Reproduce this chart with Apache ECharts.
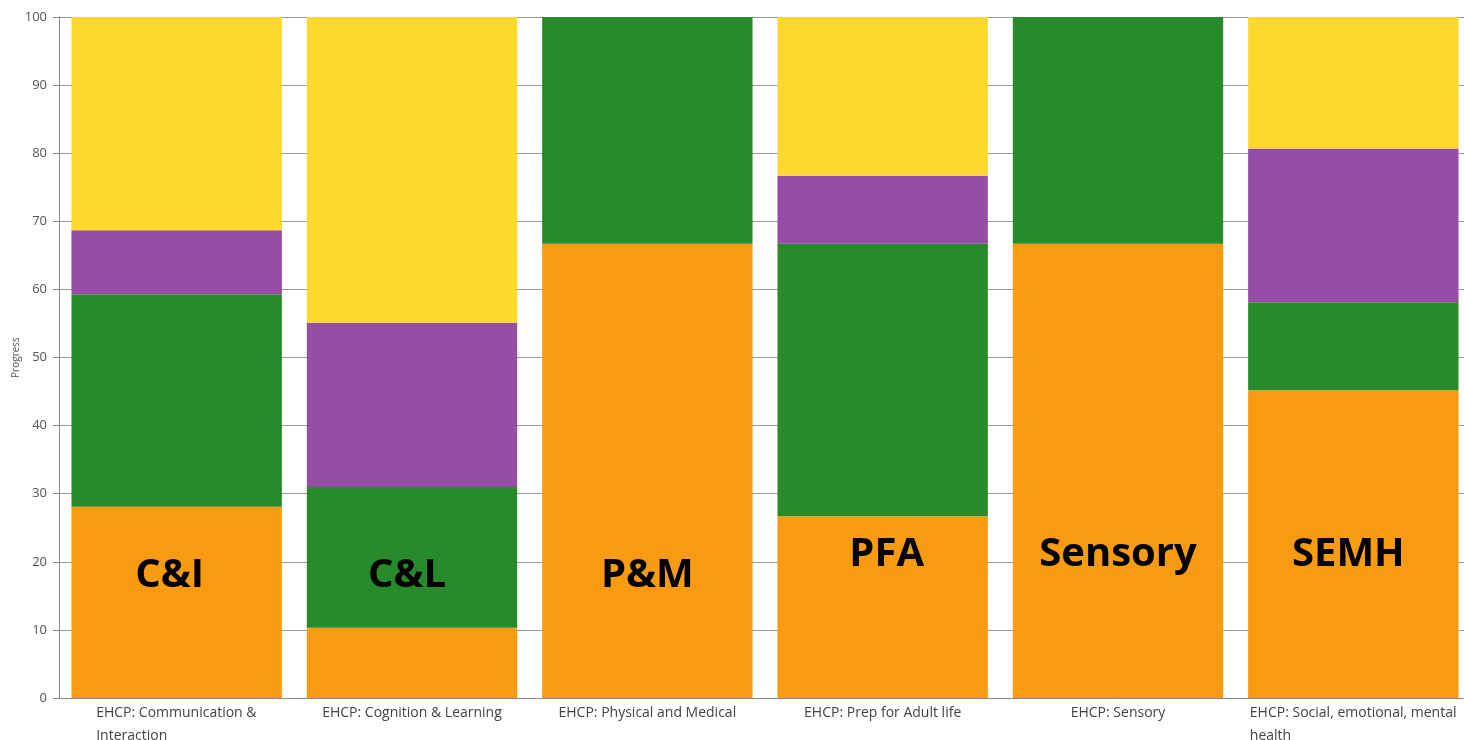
<!DOCTYPE html>
<html lang="en">
<head>
    <meta charset="UTF-8">
    <title>EHCP Progress</title>
    <script src="https://cdn.jsdelivr.net/npm/echarts@6/dist/echarts.min.js"></script>
    <style>
        *{
            margin: 0;
            padding: 0;
        }
        body{
            background-color: #fff;
            overflow: hidden;
        }
    </style>
</head>
<body>
<div id="main" style="width:1464px;height:740px;"></div>

<script>
    // categories
    var categories = [
        'EHCP: Communication & Interaction',
        'EHCP: Cognition & Learning',
        'EHCP: Physical and Medical',
        'EHCP: Prep for Adult life',
        'EHCP: Sensory',
        'EHCP: Social, emotional, mental health'
    ];
    // stacked percentages, bottom to top
    var orangeVals = [28.1, 10.3, 66.7, 26.7, 66.7, 45.2];
    var greenVals  = [31.2, 20.7, 33.3, 40.0, 33.3, 12.9];
    var purpleVals = [9.4, 24.1, 0, 10.0, 0, 22.6];
    var yellowVals = [31.3, 44.9, 0, 23.3, 0, 19.3];
    // big overlay tags
    var tagNames = ['C&I', 'C&L', 'P&M', 'PFA', 'Sensory', 'SEMH'];
    var tagHeights = [17.9, 17.9, 17.9, 21.1, 21.1, 21.1];
    // small horizontal nudges of the tags (px)
    var tagShift = [-7, -5, 0, 4, 0, -5];

    var labelFont = '14px "Open Sans"';
    var ctx = document.createElement('canvas').getContext('2d');
    ctx.font = labelFont;

    // wrap a label at ~31 chars, lines left aligned inside a centered block
    function wrapLabel(s) {
        var words = s.split(' ');
        var lines = [], cur = '';
        words.forEach(function (w) {
            var t = cur ? cur + ' ' + w : w;
            if (t.length > 31 && cur) {
                lines.push(cur);
                cur = w;
            } else {
                cur = t;
            }
        });
        lines.push(cur);
        if (lines.length === 1) return s;
        var w = 0;
        lines.forEach(function (l) { w = Math.max(w, ctx.measureText(l).width); });
        return lines.map(function (l) { return '{l' + Math.ceil(w) + '|' + l + '}'; }).join('\n');
    }

    var richStyles = {};
    categories.forEach(function (c) {
        var r = wrapLabel(c);
        var m = r.match(/\{l(\d+)\|/);
        if (m) {
            richStyles['l' + m[1]] = {
                width: +m[1], align: 'left', fontSize: 14, lineHeight: 23,
                color: '#444', fontFamily: 'Open Sans'
            };
        }
    });

    var tagData = tagNames.map(function (n, i) {
        return {value: [categories[i], tagHeights[i]], label: {offset: [tagShift[i], 0]}};
    });

    var myChart = echarts.init(document.getElementById('main'));
    var barBase = {
        type: 'bar',
        stack: 'total',
        barCategoryGap: '10.6%',
        emphasis: {disabled: true}
    };

    var option = {
        animation: false,
        grid: {left: 59, right: -7, top: 17, bottom: 42, outerBoundsMode: 'none', containLabel: false},
        xAxis: {
            type: 'category',
            data: categories,
            axisLine: {lineStyle: {color: '#888'}},
            axisTick: {show: false},
            axisLabel: {
                interval: 0,
                margin: 4,
                fontSize: 14,
                lineHeight: 23,
                color: '#444',
                fontFamily: 'Open Sans',
                formatter: wrapLabel,
                rich: richStyles
            }
        },
        yAxis: {
            type: 'value',
            min: 0,
            max: 100,
            interval: 10,
            name: 'Progress',
            nameLocation: 'middle',
            nameGap: 38,
            nameMoveOverlap: false,
            nameTextStyle: {fontSize: 10, color: '#555', fontFamily: 'Open Sans'},
            axisLine: {show: true, lineStyle: {color: '#888'}},
            axisTick: {show: true, length: 6, lineStyle: {color: '#888'}},
            axisLabel: {margin: 12, fontSize: 13, color: '#555', fontFamily: 'Open Sans'},
            splitLine: {lineStyle: {color: '#999', width: 1}}
        },
        series: [
            Object.assign({}, barBase, {name: 'orange', data: orangeVals, itemStyle: {color: '#F99B11'}}),
            Object.assign({}, barBase, {name: 'green', data: greenVals, itemStyle: {color: '#288B2B'}}),
            Object.assign({}, barBase, {name: 'purple', data: purpleVals, itemStyle: {color: '#964EA4'}}),
            Object.assign({}, barBase, {name: 'yellow', data: yellowVals, itemStyle: {color: '#FDD82E'}}),
            {
                type: 'scatter',
                data: tagData,
                symbolSize: 0,
                z: 10,
                silent: true,
                itemStyle: {opacity: 1},
                label: {
                    show: true,
                    position: 'inside',
                    opacity: 1,
                    formatter: function (p) { return tagNames[p.dataIndex]; },
                    fontSize: 40,
                    fontWeight: 'bold',
                    color: '#000',
                    fontFamily: 'Open Sans'
                }
            }
        ]
    };

    myChart.setOption(option);
</script>
</body>
</html>
